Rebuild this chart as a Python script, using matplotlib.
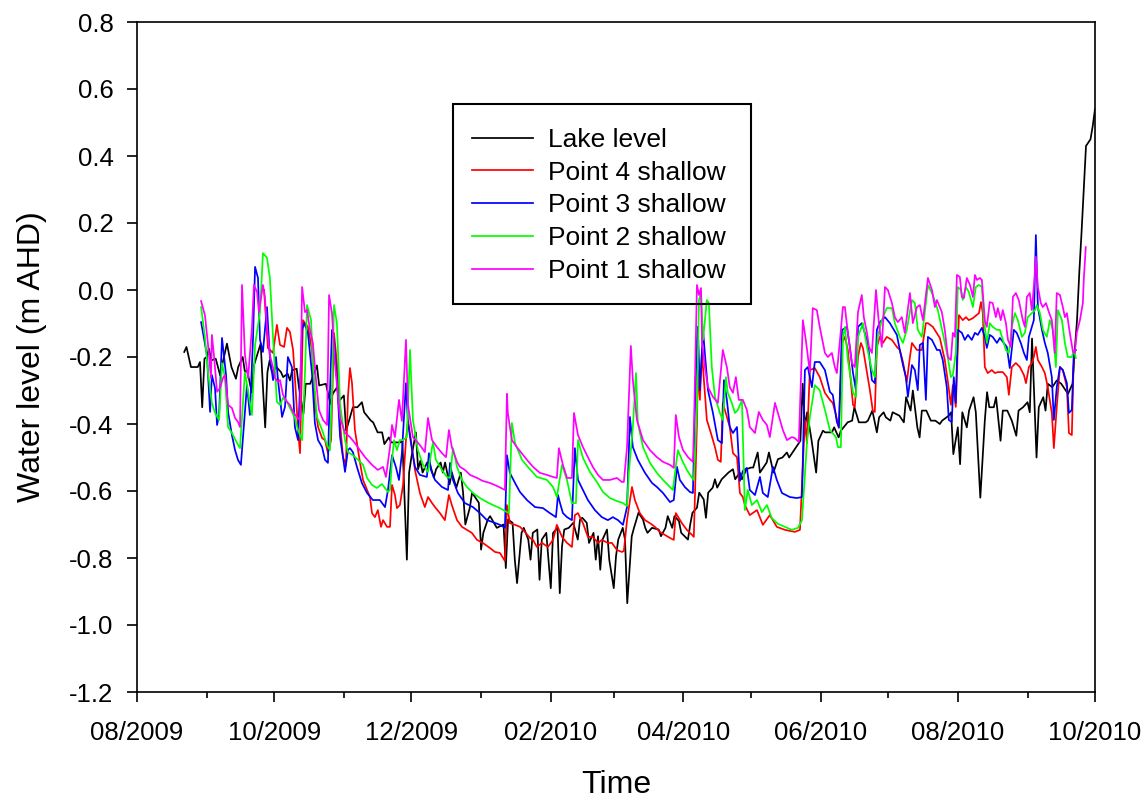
import matplotlib
matplotlib.use("Agg")
import matplotlib.pyplot as plt
import matplotlib.dates as mdates
from matplotlib.patches import Rectangle
import numpy as np
import pandas as pd

plt.rcParams['font.family'] = ['Liberation Sans', 'DejaVu Sans']
plt.rcParams['axes.unicode_minus'] = False

START = pd.Timestamp('2009-08-01')

# Days since 1 Aug 2009 and water levels (m AHD)
lake_day = [21, 22, 24, 27, 28, 29, 30, 31, 32, 33, 35, 37, 38, 40, 42, 44, 45, 47, 48, 49,
            51, 52, 55, 56, 57, 58, 59, 60, 62, 64, 65, 67, 68, 69, 71, 72, 74, 75, 77, 80,
            81, 84, 86, 87, 89, 90, 92, 93, 96, 98, 100, 101, 104, 105, 107, 109, 110, 112, 113, 117,
            118, 120, 121, 122, 124, 125, 126, 127, 129, 130, 132, 133, 135, 136, 137, 139, 140, 142, 144, 145,
            146, 148, 149, 152, 153, 154, 156, 157, 160, 163, 164, 165, 167, 168, 169, 171, 172, 174, 175, 176,
            178, 179, 180, 182, 184, 185, 187, 188, 189, 190, 192, 194, 196, 197, 198, 200, 201, 203, 204, 205,
            206, 207, 209, 210, 212, 213, 214, 216, 217, 218, 220, 221, 223, 225, 226, 227, 229, 232, 233, 235,
            236, 238, 239, 241, 242, 245, 246, 247, 249, 250, 252, 253, 254, 256, 257, 258, 260, 263, 265, 266,
            268, 269, 271, 273, 274, 276, 277, 278, 280, 281, 283, 285, 287, 289, 290, 293, 295, 296, 297, 298,
            300, 302, 303, 305, 306, 309, 310, 312, 313, 316, 318, 319, 321, 324, 325, 327, 329, 330, 332, 333,
            335, 336, 339, 341, 342, 344, 345, 347, 348, 349, 351, 353, 355, 357, 358, 361, 362, 363, 365, 366,
            367, 369, 370, 372, 373, 375, 377, 378, 379, 381, 382, 384, 385, 387, 389, 391, 392, 394, 396, 397,
            398, 400, 401, 403, 404, 405, 407, 409, 411, 413, 414, 416, 417, 418, 419, 420, 421, 422, 424, 425,
            426]
lake_val = [-0.185, -0.17, -0.23, -0.23, -0.215, -0.35, -0.205, -0.20, -0.175, -0.21, -0.205, -0.255, -0.22, -0.16, -0.23, -0.265, -0.23, -0.20, -0.245, -0.24,
            -0.305, -0.225, -0.16, -0.29, -0.41, -0.245, -0.21, -0.245, -0.23, -0.245, -0.26, -0.25, -0.27, -0.24, -0.235, -0.29, -0.37, -0.28, -0.28, -0.225,
            -0.285, -0.28, -0.34, -0.31, -0.29, -0.33, -0.315, -0.42, -0.35, -0.35, -0.335, -0.365, -0.39, -0.395, -0.425, -0.425, -0.46, -0.44, -0.455, -0.455,
            -0.45, -0.805, -0.545, -0.50, -0.425, -0.535, -0.51, -0.545, -0.515, -0.515, -0.56, -0.535, -0.515, -0.545, -0.515, -0.58, -0.545, -0.59, -0.545, -0.605,
            -0.70, -0.65, -0.605, -0.635, -0.775, -0.725, -0.685, -0.675, -0.71, -0.70, -0.83, -0.685, -0.695, -0.805, -0.875, -0.725, -0.71, -0.745, -0.805, -0.725,
            -0.715, -0.865, -0.745, -0.725, -0.89, -0.725, -0.71, -0.905, -0.765, -0.715, -0.71, -0.695, -0.745, -0.685, -0.68, -0.695, -0.755, -0.725, -0.805, -0.735,
            -0.835, -0.745, -0.715, -0.805, -0.89, -0.795, -0.745, -0.71, -0.745, -0.935, -0.735, -0.71, -0.665, -0.685, -0.71, -0.725, -0.71, -0.715, -0.735, -0.71,
            -0.675, -0.71, -0.675, -0.69, -0.725, -0.745, -0.70, -0.665, -0.65, -0.605, -0.625, -0.68, -0.605, -0.59, -0.565, -0.59, -0.565, -0.545, -0.535, -0.565,
            -0.545, -0.565, -0.535, -0.53, -0.53, -0.485, -0.545, -0.535, -0.515, -0.485, -0.545, -0.505, -0.50, -0.485, -0.50, -0.47, -0.45, -0.28, -0.41, -0.365,
            -0.45, -0.545, -0.45, -0.42, -0.425, -0.425, -0.41, -0.44, -0.42, -0.395, -0.39, -0.35, -0.395, -0.395, -0.39, -0.36, -0.425, -0.38, -0.365, -0.38,
            -0.39, -0.365, -0.375, -0.395, -0.32, -0.36, -0.30, -0.41, -0.44, -0.36, -0.36, -0.39, -0.39, -0.40, -0.39, -0.375, -0.365, -0.49, -0.41, -0.52,
            -0.365, -0.41, -0.36, -0.32, -0.365, -0.62, -0.39, -0.305, -0.35, -0.35, -0.32, -0.45, -0.36, -0.36, -0.39, -0.435, -0.36, -0.35, -0.335, -0.365,
            -0.145, -0.50, -0.35, -0.32, -0.36, -0.28, -0.29, -0.27, -0.28, -0.30, -0.31, -0.28, -0.18, -0.09, 0.05, 0.17, 0.30, 0.43, 0.45, 0.49,
            0.54]

p4_day = [56.5, 58.2, 60.5, 62.2, 63.6, 65.4, 66.7, 68.0, 69.4, 70.7, 71.6, 72.5, 73.8, 74.7, 76.0, 77.8, 79.1, 80.5, 82.3, 83.6,
          84.9, 86.3, 87.6, 88.9, 90.3, 91.6, 92.9, 93.8, 94.7, 95.6, 96.9, 99.1, 100.5, 102.3, 103.6, 104.5, 105.8, 107.1, 108.5, 109.4,
          111.2, 112.5, 113.4, 114.7, 115.6, 116.9, 118.3, 119.6, 120.5, 121.8, 123.6, 125.8, 128.0, 129.4, 131.2, 132.5, 134.7, 136.9, 138.7, 140.0,
          142.3, 144.5, 146.7, 148.9, 151.2, 153.8, 156.9, 159.2, 161.4, 163.6, 164.5, 165.8, 168.1, 170.3, 172.5, 174.7, 176.1, 177.8, 180.1, 182.7,
          185.0, 186.7, 189.0, 191.2, 193.4, 194.7, 196.1, 198.3, 200.5, 202.7, 205.0, 206.7, 209.4, 211.2, 213.4, 215.6, 216.5, 217.9, 220.1, 221.4,
          223.6, 225.9, 228.1, 230.3, 232.5, 234.7, 237.0, 238.7, 239.6, 242.3, 244.5, 246.8, 247.6, 249.0, 249.4, 250.3, 251.2, 252.1, 253.4, 255.2,
          257.0, 258.3, 259.6, 260.5, 262.3, 263.6, 265.0, 266.8, 268.1, 269.4, 270.3, 272.5, 275.7, 278.3, 281.4, 284.5, 288.1, 292.5, 294.8, 297.0,
          297.9, 299.2, 301.4, 303.6, 305.9, 308.1, 309.4, 310.8, 312.1, 313.5, 314.8, 316.1, 318.4, 319.2, 320.6, 321.9, 322.8, 324.6, 325.9, 327.2,
          328.1, 329.0, 330.3, 331.7, 333.4, 335.7, 337.9, 339.2, 340.6, 342.3, 343.7, 344.6, 346.8, 349.0, 350.8, 351.7, 353.9, 357.0, 359.2, 360.6,
          361.9, 362.8, 364.1, 365.5, 367.2, 368.6, 369.9, 371.7, 374.4, 375.3, 376.1, 377.0, 378.3, 380.1, 381.5, 382.8, 385.0, 386.8, 387.7, 389.0,
          390.8, 392.6, 394.4, 395.3, 396.6, 397.9, 398.8, 399.7, 400.6, 402.4, 403.7, 405.0, 406.8, 407.7, 409.0, 410.4, 411.7, 413.5, 414.4, 415.7,
          416.6]
p4_val = [0.0, -0.173, -0.188, -0.104, -0.164, -0.170, -0.113, -0.125, -0.179, -0.313, -0.418, -0.487, -0.09, -0.099, -0.110, -0.179, -0.337, -0.409, -0.442, -0.448,
          -0.487, -0.448, -0.128, -0.218, -0.397, -0.499, -0.522, -0.319, -0.233, -0.278, -0.418, -0.513, -0.567, -0.597, -0.618, -0.666, -0.678, -0.657, -0.707, -0.687,
          -0.707, -0.707, -0.582, -0.612, -0.651, -0.642, -0.582, -0.448, -0.388, -0.448, -0.537, -0.606, -0.648, -0.618, -0.636, -0.648, -0.666, -0.687, -0.612, -0.642,
          -0.687, -0.707, -0.716, -0.725, -0.746, -0.755, -0.770, -0.782, -0.785, -0.809, -0.642, -0.696, -0.701, -0.707, -0.722, -0.740, -0.746, -0.767, -0.755, -0.767,
          -0.746, -0.701, -0.737, -0.755, -0.767, -0.672, -0.666, -0.696, -0.737, -0.737, -0.755, -0.746, -0.755, -0.755, -0.776, -0.782, -0.779, -0.687, -0.588, -0.627,
          -0.666, -0.687, -0.696, -0.707, -0.722, -0.731, -0.740, -0.746, -0.666, -0.696, -0.716, -0.731, -0.737, -0.397, -0.239, -0.328, -0.188, -0.269, -0.388, -0.427,
          -0.469, -0.507, -0.513, -0.337, -0.379, -0.409, -0.487, -0.499, -0.606, -0.618, -0.642, -0.672, -0.657, -0.701, -0.672, -0.707, -0.716, -0.722, -0.716, -0.388,
          -0.457, -0.239, -0.233, -0.260, -0.307, -0.328, -0.337, -0.373, -0.412, -0.158, -0.140, -0.179, -0.343, -0.349, -0.200, -0.158, -0.173, -0.245, -0.299, -0.361,
          -0.364, -0.170, -0.140, -0.158, -0.140, -0.149, -0.170, -0.179, -0.215, -0.275, -0.200, -0.158, -0.179, -0.179, -0.099, -0.099, -0.110, -0.143, -0.209, -0.275,
          -0.343, -0.284, -0.349, -0.075, -0.090, -0.081, -0.090, -0.084, -0.069, -0.036, -0.069, -0.230, -0.248, -0.239, -0.248, -0.245, -0.245, -0.260, -0.313, -0.230,
          -0.218, -0.230, -0.254, -0.278, -0.230, -0.218, -0.200, -0.170, -0.209, -0.230, -0.248, -0.290, -0.367, -0.472, -0.349, -0.230, -0.239, -0.290, -0.427, -0.433,
          -0.188]

p3_day = [28.5, 31.1, 32.5, 33.3, 34.7, 35.6, 36.5, 37.8, 39.6, 40.5, 42.2, 43.6, 44.9, 46.2, 48.9, 50.2, 51.6, 52.5, 53.8, 54.7,
          56.0, 57.8, 59.1, 60.5, 61.8, 62.7, 64.5, 65.8, 67.1, 68.9, 70.2, 71.6, 73.4, 74.3, 76.0, 77.8, 79.1, 80.5, 82.3, 83.6,
          84.9, 85.4, 86.7, 87.6, 88.9, 90.3, 91.6, 92.5, 93.8, 94.7, 96.0, 97.8, 100.0, 102.3, 104.9, 108.0, 110.3, 111.6, 113.4, 115.1,
          116.5, 117.8, 119.6, 120.5, 122.3, 123.6, 125.8, 128.9, 129.8, 130.7, 132.5, 135.6, 138.3, 139.2, 140.5, 142.7, 145.8, 149.4, 152.5, 155.6,
          158.3, 161.4, 163.6, 164.5, 165.8, 168.1, 170.3, 173.4, 177.0, 180.5, 183.6, 186.3, 187.2, 188.1, 189.4, 191.2, 193.4, 194.7, 196.1, 198.3,
          200.5, 203.6, 206.7, 209.4, 211.6, 213.9, 216.1, 217.9, 219.2, 220.5, 222.7, 225.9, 229.0, 231.2, 233.9, 237.0, 238.7, 240.1, 241.4, 243.6,
          245.9, 247.2, 248.1, 249.0, 249.4, 250.3, 251.7, 252.5, 253.9, 256.1, 258.3, 260.1, 261.0, 262.3, 263.6, 265.0, 266.8, 268.1, 269.4, 271.2,
          272.5, 274.8, 277.0, 278.3, 280.5, 282.8, 284.5, 286.8, 290.3, 293.4, 295.7, 297.0, 298.3, 300.1, 301.4, 303.6, 305.9, 308.1, 309.4, 311.2,
          312.1, 313.5, 315.7, 317.0, 318.4, 319.7, 320.6, 322.3, 325.0, 326.8, 328.1, 329.0, 330.3, 332.6, 334.8, 337.9, 339.2, 340.6, 341.9, 342.8,
          344.6, 345.9, 347.2, 348.1, 349.5, 350.8, 351.7, 353.5, 355.7, 357.0, 358.3, 360.1, 361.0, 362.3, 363.2, 364.1, 365.0, 366.8, 368.1, 369.5,
          371.2, 372.6, 373.9, 375.7, 377.0, 377.9, 379.2, 380.5, 382.4, 383.7, 386.8, 388.1, 389.9, 391.2, 393.0, 394.4, 395.7, 396.6, 398.8, 399.7,
          400.6, 402.4, 403.7, 405.0, 406.8, 407.7, 409.0, 410.4, 411.7, 413.5, 414.4, 415.7, 416.6, 417.5]
p3_val = [-0.096, -0.194, -0.364, -0.254, -0.293, -0.403, -0.373, -0.143, -0.254, -0.364, -0.433, -0.478, -0.507, -0.522, -0.284, -0.373, -0.143, 0.069, 0.036, -0.149,
          -0.185, -0.051, -0.200, -0.269, -0.200, -0.269, -0.379, -0.349, -0.200, -0.230, -0.409, -0.448, -0.119, -0.099, -0.128, -0.248, -0.397, -0.448, -0.469, -0.507,
          -0.516, -0.388, -0.119, -0.149, -0.269, -0.439, -0.499, -0.543, -0.478, -0.472, -0.484, -0.528, -0.576, -0.606, -0.627, -0.627, -0.648, -0.597, -0.493, -0.528,
          -0.567, -0.487, -0.278, -0.397, -0.478, -0.528, -0.552, -0.558, -0.487, -0.537, -0.567, -0.588, -0.597, -0.516, -0.567, -0.606, -0.636, -0.648, -0.666, -0.687,
          -0.693, -0.701, -0.710, -0.493, -0.546, -0.576, -0.603, -0.627, -0.648, -0.651, -0.666, -0.678, -0.612, -0.636, -0.666, -0.678, -0.687, -0.472, -0.567, -0.597,
          -0.627, -0.657, -0.678, -0.687, -0.678, -0.687, -0.701, -0.648, -0.379, -0.469, -0.507, -0.546, -0.576, -0.588, -0.606, -0.633, -0.627, -0.528, -0.567, -0.588,
          -0.603, -0.606, -0.349, -0.149, -0.110, -0.299, -0.119, -0.188, -0.299, -0.367, -0.448, -0.457, -0.269, -0.328, -0.409, -0.427, -0.409, -0.570, -0.540, -0.531,
          -0.597, -0.612, -0.558, -0.606, -0.618, -0.528, -0.567, -0.606, -0.618, -0.621, -0.618, -0.239, -0.230, -0.290, -0.215, -0.215, -0.239, -0.304, -0.313, -0.394,
          -0.409, -0.119, -0.110, -0.170, -0.248, -0.299, -0.110, -0.099, -0.158, -0.269, -0.278, -0.119, -0.096, -0.081, -0.099, -0.134, -0.179, -0.224, -0.260, -0.319,
          -0.224, -0.239, -0.299, -0.164, -0.158, -0.328, -0.140, -0.149, -0.179, -0.179, -0.209, -0.290, -0.388, -0.394, -0.260, -0.337, -0.119, -0.128, -0.149, -0.134,
          -0.149, -0.128, -0.134, -0.113, -0.140, -0.173, -0.134, -0.140, -0.158, -0.143, -0.170, -0.233, -0.119, -0.128, -0.158, -0.188, -0.209, -0.140, -0.090, 0.164,
          -0.051, -0.119, -0.158, -0.188, -0.260, -0.388, -0.290, -0.230, -0.239, -0.278, -0.367, -0.358, -0.188, -0.179]

p2_day = [28.5, 30.2, 31.6, 33.3, 34.7, 36.5, 37.8, 39.1, 40.5, 42.2, 44.5, 45.8, 48.0, 49.4, 51.1, 52.5, 54.7, 56.0, 57.8, 59.1,
          60.5, 61.4, 62.2, 63.6, 64.9, 66.7, 68.0, 70.2, 71.6, 73.4, 74.7, 75.6, 77.4, 78.2, 80.0, 82.3, 84.5, 85.8, 86.7, 87.6,
          88.9, 90.3, 92.5, 93.8, 96.0, 98.3, 100.5, 102.3, 104.5, 106.7, 108.9, 111.6, 112.5, 113.4, 114.3, 115.6, 116.9, 118.3, 120.0, 121.4,
          122.7, 124.9, 127.2, 129.4, 131.6, 132.9, 135.6, 137.8, 139.2, 140.5, 142.3, 144.5, 146.7, 149.4, 152.5, 155.6, 158.3, 161.4, 164.5, 165.4,
          166.7, 168.1, 171.2, 173.8, 177.8, 182.3, 185.0, 186.7, 189.0, 191.2, 193.4, 195.2, 196.1, 198.3, 201.4, 204.5, 207.2, 210.3, 213.4, 216.1,
          217.9, 218.7, 220.5, 221.9, 222.7, 225.0, 228.1, 231.2, 233.9, 237.0, 238.3, 240.5, 242.3, 244.5, 246.8, 247.6, 249.0, 249.9, 250.8, 251.7,
          253.4, 254.3, 255.6, 257.0, 259.2, 260.5, 261.9, 262.7, 264.5, 265.9, 267.2, 269.0, 270.3, 271.6, 273.4, 275.7, 277.9, 280.1, 282.3, 285.0,
          288.1, 291.2, 293.9, 295.7, 297.9, 299.2, 301.4, 303.6, 305.9, 308.1, 310.8, 311.7, 313.0, 313.9, 314.8, 316.1, 318.4, 319.7, 320.6, 322.8,
          324.6, 326.8, 328.1, 329.4, 331.2, 333.4, 335.7, 337.0, 339.2, 340.6, 342.3, 344.6, 345.9, 347.2, 349.0, 350.3, 351.7, 353.9, 356.1, 358.3,
          360.6, 361.9, 362.8, 364.1, 365.0, 366.4, 367.2, 368.6, 369.9, 371.7, 373.0, 374.4, 375.7, 376.6, 377.9, 379.2, 380.5, 382.4, 383.7, 385.0,
          386.4, 387.7, 389.0, 390.4, 391.7, 393.5, 394.8, 396.1, 397.9, 399.3, 400.1, 401.5, 402.8, 404.6, 405.9, 407.3, 408.6, 409.5, 411.3, 412.6,
          413.9, 415.7, 416.6, 417.5]
p2_val = [-0.051, -0.140, -0.248, -0.337, -0.367, -0.388, -0.218, -0.260, -0.409, -0.427, -0.457, -0.472, -0.245, -0.304, -0.373, -0.164, -0.066, 0.110, 0.096, 0.036,
          -0.143, -0.245, -0.334, -0.343, -0.322, -0.334, -0.352, -0.382, -0.418, -0.448, -0.248, -0.045, -0.090, -0.218, -0.379, -0.418, -0.463, -0.478, -0.299, -0.045,
          -0.099, -0.343, -0.448, -0.484, -0.493, -0.507, -0.522, -0.561, -0.582, -0.591, -0.579, -0.603, -0.597, -0.507, -0.448, -0.478, -0.448, -0.448, -0.439, -0.179,
          -0.388, -0.478, -0.522, -0.543, -0.454, -0.507, -0.537, -0.558, -0.561, -0.472, -0.528, -0.567, -0.588, -0.606, -0.621, -0.633, -0.642, -0.651, -0.663, -0.666,
          -0.397, -0.457, -0.507, -0.528, -0.558, -0.567, -0.588, -0.618, -0.522, -0.567, -0.636, -0.636, -0.448, -0.501, -0.543, -0.573, -0.603, -0.621, -0.630, -0.636,
          -0.645, -0.546, -0.409, -0.248, -0.397, -0.469, -0.516, -0.546, -0.567, -0.588, -0.597, -0.478, -0.507, -0.537, -0.561, -0.567, -0.349, -0.030, -0.006, -0.149,
          -0.030, -0.039, -0.230, -0.319, -0.367, -0.388, -0.260, -0.307, -0.337, -0.367, -0.358, -0.328, -0.657, -0.597, -0.642, -0.627, -0.663, -0.642, -0.681, -0.698,
          -0.707, -0.716, -0.710, -0.687, -0.457, -0.379, -0.284, -0.299, -0.358, -0.418, -0.439, -0.469, -0.469, -0.140, -0.110, -0.209, -0.307, -0.319, -0.140, -0.099,
          -0.170, -0.239, -0.260, -0.140, -0.090, -0.054, -0.054, -0.099, -0.140, -0.158, -0.119, -0.030, -0.039, -0.119, -0.140, -0.069, 0.015, -0.015, -0.060, -0.128,
          -0.203, -0.260, -0.254, -0.188, 0.009, 0.000, -0.030, 0.009, -0.006, -0.051, 0.009, 0.015, 0.009, -0.090, -0.158, -0.099, -0.110, -0.119, -0.119, -0.149,
          -0.179, -0.188, -0.110, -0.069, -0.090, -0.140, -0.128, -0.081, -0.069, -0.060, -0.045, -0.069, -0.119, -0.140, -0.090, -0.119, -0.230, -0.060, -0.090, -0.158,
          -0.200, -0.200, -0.179, -0.203]

p1_day = [28.5, 30.2, 31.6, 32.5, 32.9, 33.3, 34.2, 35.6, 36.9, 38.2, 39.1, 40.0, 40.5, 42.2, 43.6, 44.9, 45.8, 46.7, 48.0, 49.4,
          51.1, 52.0, 53.4, 54.2, 56.0, 56.9, 57.8, 59.1, 60.5, 61.4, 62.7, 63.6, 64.9, 66.7, 68.0, 69.4, 71.1, 72.5, 73.4, 74.7,
          75.6, 76.9, 78.2, 79.6, 80.9, 82.7, 84.5, 85.4, 86.7, 88.0, 90.3, 92.5, 94.7, 96.9, 99.1, 101.4, 104.5, 107.1, 109.4, 110.7,
          112.5, 113.4, 114.7, 116.5, 117.8, 119.6, 120.5, 122.7, 125.8, 128.0, 129.4, 131.2, 133.4, 135.6, 137.4, 138.7, 140.0, 142.3, 143.6, 145.8,
          148.1, 151.2, 153.8, 156.9, 160.1, 162.7, 163.6, 164.5, 164.9, 166.7, 168.9, 173.4, 176.1, 179.2, 182.3, 185.0, 186.7, 187.6, 189.4, 191.2,
          193.4, 194.3, 196.1, 198.3, 200.5, 202.7, 205.0, 207.2, 210.3, 213.4, 215.6, 216.5, 217.9, 219.6, 220.5, 222.3, 225.0, 228.1, 231.2, 233.9,
          237.0, 238.7, 239.6, 241.0, 242.8, 245.0, 247.2, 247.6, 249.0, 249.9, 250.8, 251.2, 252.5, 253.9, 256.1, 258.3, 260.5, 262.3, 263.6, 265.0,
          266.3, 267.6, 269.4, 271.2, 272.5, 274.8, 276.5, 278.3, 280.1, 281.4, 283.7, 285.0, 287.2, 289.0, 291.2, 292.5, 294.3, 296.1, 297.4, 299.2,
          300.5, 302.3, 303.6, 305.9, 307.2, 309.0, 310.3, 311.2, 312.6, 313.9, 314.8, 316.1, 317.9, 319.2, 320.6, 322.3, 323.2, 324.6, 325.5, 326.8,
          328.6, 329.9, 331.2, 332.6, 333.9, 335.7, 337.0, 338.3, 340.1, 341.4, 343.7, 345.0, 346.8, 348.1, 349.5, 351.7, 353.5, 354.8, 355.7, 357.9,
          359.2, 360.6, 361.9, 362.8, 363.7, 364.6, 365.9, 366.8, 367.7, 369.0, 370.4, 371.7, 372.6, 373.5, 374.8, 375.7, 377.0, 377.9, 379.2, 380.5,
          381.9, 382.8, 384.1, 385.0, 386.4, 387.3, 388.6, 389.5, 390.8, 392.1, 393.9, 394.8, 395.7, 397.0, 397.9, 398.8, 399.7, 400.6, 401.9, 402.8,
          404.2, 405.5, 406.8, 408.1, 409.0, 410.4, 411.7, 412.6, 413.5, 414.8, 416.2, 417.0, 417.9, 419.3, 420.6, 421.0, 421.9]
p1_val = [-0.033, -0.075, -0.164, -0.233, -0.263, -0.134, -0.194, -0.304, -0.293, -0.263, -0.254, -0.313, -0.343, -0.352, -0.382, -0.394, -0.409, 0.015, -0.194, -0.263,
          -0.113, 0.015, -0.006, -0.066, 0.015, -0.024, -0.113, -0.194, -0.233, -0.263, -0.275, -0.269, -0.313, -0.334, -0.343, -0.364, -0.379, -0.388, 0.009, -0.066,
          -0.060, -0.119, -0.158, -0.269, -0.358, -0.388, -0.403, -0.015, -0.069, -0.218, -0.382, -0.427, -0.439, -0.457, -0.478, -0.499, -0.522, -0.537, -0.528, -0.558,
          -0.469, -0.403, -0.439, -0.328, -0.391, -0.149, -0.343, -0.439, -0.463, -0.484, -0.382, -0.448, -0.469, -0.487, -0.499, -0.418, -0.469, -0.513, -0.528, -0.537,
          -0.552, -0.561, -0.570, -0.576, -0.585, -0.594, -0.597, -0.310, -0.367, -0.448, -0.469, -0.507, -0.528, -0.546, -0.552, -0.558, -0.561, -0.472, -0.522, -0.561,
          -0.561, -0.367, -0.433, -0.469, -0.499, -0.528, -0.552, -0.567, -0.567, -0.561, -0.573, -0.573, -0.469, -0.167, -0.269, -0.388, -0.448, -0.478, -0.499, -0.513,
          -0.522, -0.531, -0.373, -0.439, -0.478, -0.499, -0.513, -0.427, 0.015, -0.015, 0.006, -0.149, -0.230, -0.290, -0.319, -0.337, -0.179, -0.230, -0.290, -0.307,
          -0.260, -0.328, -0.328, -0.358, -0.409, -0.427, -0.364, -0.388, -0.403, -0.439, -0.337, -0.367, -0.418, -0.448, -0.439, -0.442, -0.454, -0.090, -0.149, -0.245,
          -0.054, -0.060, -0.110, -0.188, -0.200, -0.188, -0.230, -0.248, -0.149, -0.051, -0.051, -0.128, -0.218, -0.230, -0.066, -0.015, -0.081, -0.128, -0.170, -0.188,
          0.000, -0.099, -0.170, 0.009, 0.000, -0.039, -0.081, -0.096, -0.081, -0.128, -0.009, -0.099, -0.051, -0.045, -0.090, 0.036, 0.000, -0.051, -0.030, -0.066,
          -0.119, -0.200, -0.209, -0.128, -0.140, 0.045, 0.039, -0.021, -0.024, 0.036, 0.015, -0.021, 0.045, 0.030, 0.036, 0.030, -0.090, -0.110, -0.036, -0.039,
          -0.081, -0.054, -0.090, -0.060, -0.099, -0.149, -0.170, -0.021, -0.009, -0.030, -0.090, -0.110, -0.021, -0.009, -0.060, 0.009, 0.099, 0.009, -0.039, -0.051,
          -0.039, -0.066, -0.090, -0.188, -0.009, -0.015, -0.051, -0.081, -0.069, -0.128, -0.185, -0.188, -0.128, -0.090, -0.039, 0.030, 0.128]

y_ticks = [-1.2, -1.0, -0.8, -0.6, -0.4, -0.2, 0.0, 0.2, 0.4, 0.6, 0.8]

series = [
    ('Lake level', lake_day, lake_val, 'black'),
    ('Point 4 shallow', p4_day, p4_val, '#ff0000'),
    ('Point 3 shallow', p3_day, p3_val, '#0000ff'),
    ('Point 2 shallow', p2_day, p2_val, '#00ff00'),
    ('Point 1 shallow', p1_day, p1_val, '#ff00ff'),
]

W, H = 1142, 801
fig = plt.figure(figsize=(W / 100, H / 100), dpi=100)
ax = fig.add_axes([137 / W, 1 - 692 / H, (1095 - 137) / W, (692 - 22) / H])

for label, days, vals, color in series:
    dates = START + pd.to_timedelta(np.asarray(days, dtype=float), unit='D')
    ax.plot(dates, vals, color=color, lw=1.25, label=label)

ax.set_xlim(pd.Timestamp('2009-08-01'), pd.Timestamp('2010-10-01'))
ax.set_ylim(-1.2, 0.8)
ax.set_yticks(y_ticks)
ax.set_yticklabels([f'{v:.1f}' for v in y_ticks])
ax.xaxis.set_major_locator(mdates.MonthLocator(bymonth=[2, 4, 6, 8, 10, 12]))
ax.xaxis.set_minor_locator(mdates.MonthLocator())
ax.xaxis.set_major_formatter(mdates.DateFormatter('%m/%Y'))

for s in ax.spines.values():
    s.set_linewidth(1.2)
ax.tick_params(axis='both', which='major', direction='out', length=7, width=1.2,
               labelsize=18.5, pad=10)
ax.tick_params(axis='x', which='major', pad=14)
ax.tick_params(axis='x', which='minor', direction='out', length=4, width=1.2)

ax.set_xlabel('Time', fontsize=23, labelpad=18)
ax.set_ylabel('Water level (m AHD)', fontsize=23, labelpad=16)

# Legend entries without their own frame; the box is drawn separately
leg = ax.legend(loc='upper left', bbox_to_anchor=(472 / W, 1 - 128 / H),
                bbox_transform=fig.transFigure, borderaxespad=0, borderpad=0,
                fontsize=19, frameon=False,
                handlelength=2.3, handletextpad=0.58, labelspacing=0.33)
box = Rectangle((453 / W, 1 - 304 / H), (751 - 453) / W, (304 - 104) / H,
                transform=fig.transFigure, fill=False, edgecolor='black',
                linewidth=1.5, zorder=10)
fig.add_artist(box)

fig.savefig('out.png', dpi=100)
